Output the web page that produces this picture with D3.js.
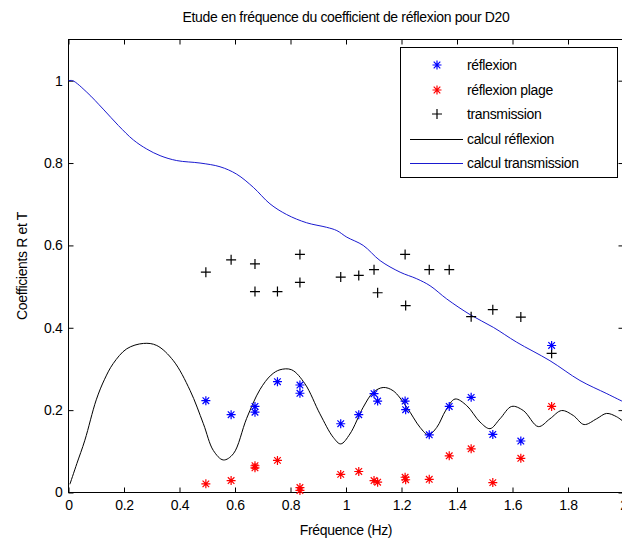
<!doctype html>
<html>
<head>
<meta charset="utf-8">
<script src="https://cdn.jsdelivr.net/npm/d3@7"></script>
<style>
  body { margin: 0; background: #fff; }
  svg { display: block; font-family: "Liberation Sans Narrow", "Liberation Sans", Arial, sans-serif; }
  svg text { letter-spacing: -0.35px; }
  .axis path { display: none; }
  .axis line { stroke: #000; }
  .axis text { font-size: 14px; fill: #000; font-family: "Liberation Sans Narrow", "Liberation Sans", Arial, sans-serif; }
</style>
</head>
<body>
<svg width="622" height="540"></svg>
<script>
// measured frequencies (Hz), shared by the three measured series
var freqs = [0.495, 0.586, 0.672, 0.672, 0.753, 0.834, 0.834, 0.981, 1.046, 1.101, 1.114, 1.213, 1.215, 1.30, 1.372, 1.451, 1.529, 1.63, 1.741];
var reflexion = [0.223, 0.189, 0.209, 0.195, 0.269, 0.261, 0.241, 0.167, 0.189, 0.24, 0.222, 0.222, 0.201, 0.14, 0.209, 0.231, 0.141, 0.125, 0.357];
var reflexionPlage = [0.021, 0.029, 0.06, 0.065, 0.078, 0.012, 0.005, 0.044, 0.051, 0.029, 0.025, 0.037, 0.031, 0.032, 0.089, 0.106, 0.024, 0.083, 0.209];
var transmission = [0.535, 0.565, 0.555, 0.488, 0.488, 0.578, 0.51, 0.523, 0.527, 0.541, 0.485, 0.578, 0.454, 0.541, 0.541, 0.427, 0.444, 0.426, 0.338];

// computed curves
var calcRefF = [0.005, 0.03, 0.059, 0.10, 0.13, 0.161, 0.21, 0.27, 0.318, 0.378, 0.438, 0.486, 0.522, 0.558, 0.594, 0.642, 0.69, 0.73, 0.762, 0.804, 0.852, 0.906, 0.954, 0.981, 1.014, 1.062, 1.098, 1.134, 1.17, 1.219, 1.267, 1.297, 1.327, 1.36, 1.393, 1.435, 1.483, 1.519, 1.555, 1.597, 1.639, 1.693, 1.735, 1.777, 1.819, 1.858, 1.903, 1.939, 1.975, 2.0];
var calcRefV = [0.02, 0.07, 0.127, 0.225, 0.275, 0.313, 0.349, 0.362, 0.357, 0.32, 0.248, 0.167, 0.102, 0.079, 0.094, 0.18, 0.25, 0.285, 0.298, 0.298, 0.264, 0.191, 0.134, 0.118, 0.142, 0.207, 0.243, 0.255, 0.247, 0.207, 0.158, 0.14, 0.158, 0.2, 0.227, 0.211, 0.171, 0.155, 0.179, 0.209, 0.199, 0.16, 0.179, 0.199, 0.187, 0.165, 0.179, 0.192, 0.184, 0.172];
var calcTrF = [0, 0.015, 0.066, 0.125, 0.18, 0.234, 0.282, 0.33, 0.39, 0.474, 0.546, 0.606, 0.666, 0.726, 0.786, 0.858, 0.93, 0.967, 1.003, 1.062, 1.123, 1.195, 1.255, 1.303, 1.363, 1.447, 1.531, 1.615, 1.735, 1.843, 1.94, 2.0];
var calcTrV = [1.0, 1.0, 0.972, 0.931, 0.891, 0.856, 0.834, 0.818, 0.806, 0.8, 0.791, 0.773, 0.741, 0.701, 0.675, 0.655, 0.644, 0.636, 0.62, 0.6, 0.563, 0.535, 0.519, 0.502, 0.47, 0.432, 0.401, 0.365, 0.32, 0.272, 0.24, 0.22];

var xTicks = [0, 0.2, 0.4, 0.6, 0.8, 1, 1.2, 1.4, 1.6, 1.8, 2];
var yTicks = [0, 0.2, 0.4, 0.6, 0.8, 1];
var legendLabels = ["réflexion", "réflexion plage", "transmission", "calcul réflexion", "calcul transmission"];

var svg = d3.select("svg");
var padL = 68.5, padR = 623.5, padT = 39.5, padB = 492.5;

var x = d3.scaleLinear().domain([0, 2]).range([padL, padR]);
var y = d3.scaleLinear().domain([0, 1.1]).range([padB, padT]);
var fmt = d3.format("~g");

// title and labels
svg.append("text").attr("x", (padL + padR) / 2).attr("y", 22)
  .attr("text-anchor", "middle").style("font-size", "14px")
  .text("Etude en fréquence du coefficient de réflexion pour D20");
svg.append("text").attr("x", (padL + padR) / 2).attr("y", 535)
  .attr("text-anchor", "middle").style("font-size", "14px")
  .text("Fréquence (Hz)");
svg.append("text").attr("transform", "translate(27," + (padT + padB) / 2 + ") rotate(-90)")
  .attr("text-anchor", "middle").style("font-size", "14px")
  .text("Coefficients R et T");

// axes, ticks inside the box on all four sides
svg.append("g").attr("class", "axis").attr("transform", "translate(0," + padB + ")")
  .call(d3.axisBottom(x).tickValues(xTicks).tickFormat(fmt).tickSizeInner(-5).tickSizeOuter(0).tickPadding(8));
svg.append("g").attr("class", "axis").attr("transform", "translate(0," + padT + ")")
  .call(d3.axisTop(x).tickValues(xTicks).tickFormat("").tickSizeInner(-5).tickSizeOuter(0));
svg.append("g").attr("class", "axis").attr("transform", "translate(" + padL + ",0)")
  .call(d3.axisLeft(y).tickValues(yTicks).tickFormat(fmt).tickSizeInner(-5).tickSizeOuter(0).tickPadding(6));
svg.append("g").attr("class", "axis").attr("transform", "translate(" + padR + ",0)")
  .call(d3.axisRight(y).tickValues(yTicks).tickFormat("").tickSizeInner(-5).tickSizeOuter(0));

svg.append("rect").attr("x", padL).attr("y", padT)
  .attr("width", padR - padL).attr("height", padB - padT)
  .attr("fill", "none").attr("stroke", "#000");

// curves
var line = d3.line().x(d => x(d[0])).y(d => y(d[1])).curve(d3.curveCatmullRom);
svg.append("path").datum(d3.zip(calcTrF, calcTrV)).attr("d", line)
  .attr("fill", "none").attr("stroke", "#1a1ad0").attr("stroke-width", 1);
svg.append("path").datum(d3.zip(calcRefF, calcRefV)).attr("d", line)
  .attr("fill", "none").attr("stroke", "#000").attr("stroke-width", 1);

// markers
function star() {
  var r = 4.5, q = 3.3;
  return "M" + (-r) + ",0H" + r + "M0," + (-r) + "V" + r +
         "M" + (-q) + "," + (-q) + "L" + q + "," + q + "M" + (-q) + "," + q + "L" + q + "," + (-q);
}
function plus() {
  var r = 5;
  return "M" + (-r) + ",0H" + r + "M0," + (-r) + "V" + r;
}

function drawMarks(vals, path, color) {
  svg.append("g").selectAll("path").data(d3.zip(freqs, vals)).enter().append("path")
    .attr("transform", d => "translate(" + x(d[0]) + "," + y(d[1]) + ")")
    .attr("d", path).attr("fill", "none").attr("stroke", color).attr("stroke-width", 1.2);
}
drawMarks(transmission, plus(), "#000");
drawMarks(reflexionPlage, star(), "#ff0000");
drawMarks(reflexion, star(), "#0000ff");

// legend
var lg = svg.append("g");
lg.append("rect").attr("x", 400.5).attr("y", 47.5).attr("width", 217).attr("height", 130)
  .attr("fill", "#fff").attr("stroke", "#000");
var rowsY = [65, 90, 114, 139, 163];
var legendKinds = [["m", star(), "#0000ff"], ["m", star(), "#ff0000"], ["m", plus(), "#000"], ["l", null, "#000"], ["l", null, "#1a1ad0"]];
legendLabels.forEach(function(lab, i) {
  var k = legendKinds[i];
  if (k[0] === "m") {
    lg.append("path").attr("transform", "translate(437," + rowsY[i] + ")")
      .attr("d", k[1]).attr("fill", "none").attr("stroke", k[2]).attr("stroke-width", 1.2);
  } else {
    lg.append("line").attr("x1", 410).attr("x2", 463).attr("y1", rowsY[i] + 0.5).attr("y2", rowsY[i] + 0.5)
      .attr("stroke", k[2]);
  }
  lg.append("text").attr("x", 467).attr("y", rowsY[i] + 5).style("font-size", "14px").text(lab);
});
</script>
</body>
</html>
